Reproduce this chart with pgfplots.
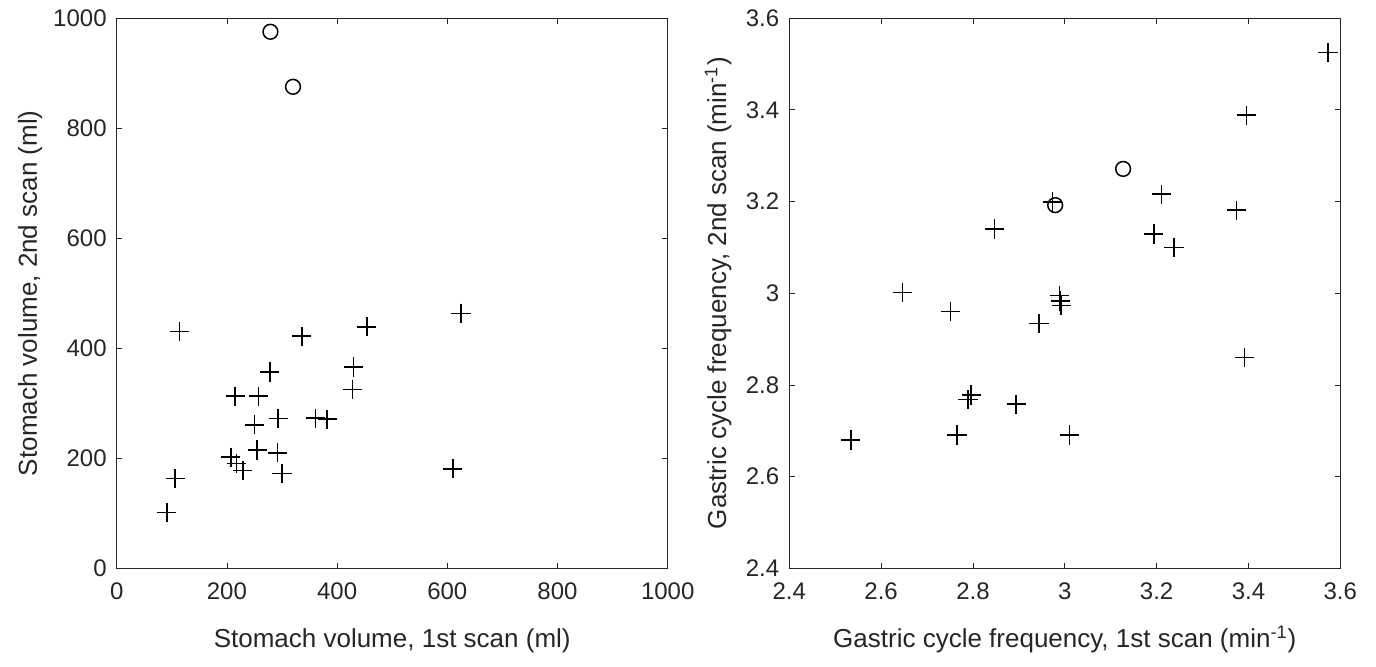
\documentclass[border=0pt]{standalone}
\usepackage{fontspec}
\setmainfont{Liberation Sans}
\usepackage{pgfplots}
\pgfplotsset{compat=1.18}
\definecolor{axgray}{RGB}{38,38,38}

\pgfplotsset{
  matstyle/.style={
    scale only axis,
    width=275.5pt, height=275.2pt,
    axis line style={axgray, line width=0.4pt},
    tick style={axgray, line width=0.4pt},
    major tick length=2.8pt,
    tick align=inside,
    ticklabel style={font=\fontsize{12}{14}\selectfont, text=axgray},
    xticklabel style={yshift=-3.5pt},
    yticklabel style={xshift=-1.5pt},
    label style={font=\fontsize{13}{15}\selectfont, text=axgray},
    /pgf/number format/assume math mode=true,
    /pgf/number format/1000 sep={},
    scaled ticks=false,
    xlabel style={at={(axis description cs:0.5,0)}, anchor=base, yshift=-39.3pt},
    every axis plot/.append style={only marks, black, line width=0.75pt},
  },
  crossmk/.style={mark=+, mark size=4.8pt},
  circmk/.style={mark=o, mark size=3.7pt},
}

\begin{document}
\begin{tikzpicture}
\path[use as bounding box] (-58.35pt,-48.8pt) rectangle (629.65pt,284.2pt);

% stomach volume
\begin{axis}[
    matstyle,
    at={(0pt,0pt)},
    xmin=0, xmax=1000, ymin=0, ymax=1000,
    xtick={0,200,...,1000}, ytick={0,200,...,1000},
    xlabel={Stomach volume, 1st scan (ml)},
    ylabel={Stomach volume, 2nd scan (ml)},
    ylabel style={at={(axis description cs:-0.157,0.5)}, anchor=center},
]
\addplot[crossmk] coordinates {
    (114,430) (336,422) (454,439) (278,357) (430,366) (428,325)
    (215,313) (257,313) (293,272) (361,273) (382,271) (250,261)
    (255,215) (292,210) (207,202) (217,191) (229,178) (300,172)
    (106,163) (91,102) (625,463) (610,181)
};
\addplot[circmk] coordinates {
    (279,975) (320,875)
};
\end{axis}

% gastric cycle frequency
\begin{axis}[
    matstyle,
    at={(336.3pt,0pt)},
    xmin=2.4, xmax=3.6, ymin=2.4, ymax=3.6,
    xtick={2.4,2.6,...,3.61}, ytick={2.4,2.6,...,3.61},
    xlabel={Gastric cycle frequency, 1st scan (min\textsuperscript{-1})},
    ylabel={Gastric cycle frequency, 2nd scan (min\textsuperscript{-1})},
    ylabel style={at={(axis description cs:-0.129,0.5)}, anchor=center},
]
\addplot[crossmk] coordinates {
    (2.847,3.140) (2.646,3.002) (2.751,2.960) (2.796,2.778) (2.789,2.768)
    (2.894,2.758) (2.765,2.691) (2.534,2.680) (3.573,3.525) (3.396,3.388)
    (3.211,3.216) (2.973,3.199) (3.374,3.181) (3.194,3.129) (3.238,3.100)
    (2.988,2.995) (2.990,2.983) (2.992,2.973) (2.944,2.934) (3.391,2.860)
    (3.010,2.691)
};
\addplot[circmk] coordinates {
    (3.127,3.271) (2.979,3.192)
};
\end{axis}
\end{tikzpicture}
\end{document}
